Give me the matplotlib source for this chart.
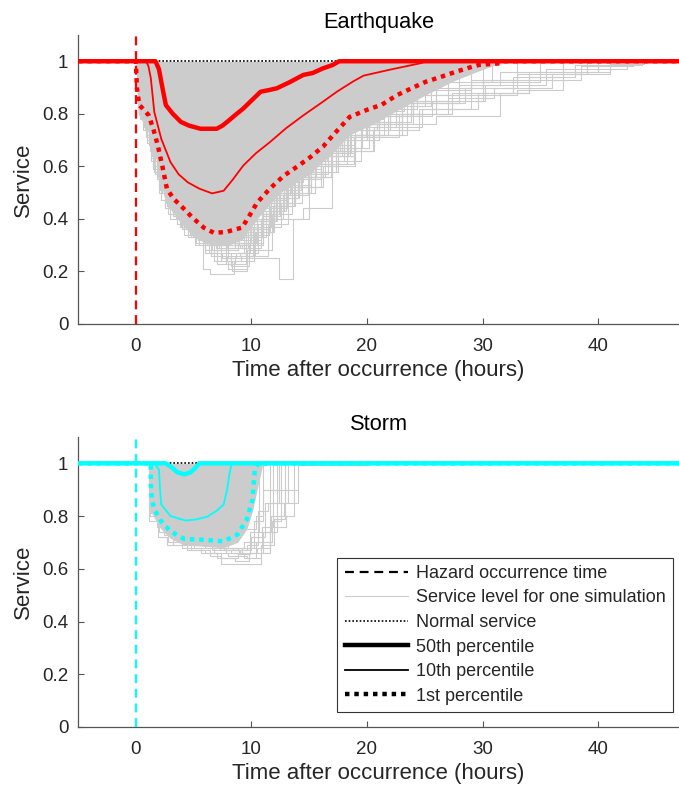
import numpy as np
import matplotlib
matplotlib.use("Agg")
import matplotlib.pyplot as plt
from matplotlib.lines import Line2D

plt.rcParams["font.family"] = ["Liberation Sans", "DejaVu Sans"]

T_MIN, T_MAX = -5, 47

# ---------------- Earthquake ----------------
eq_p50_t = [T_MIN, 1.7, 2.0, 2.3, 2.6, 3.2, 3.9, 4.6, 5.6, 7.0, 7.5, 7.9, 8.6, 9.3, 10.0, 10.8, 11.5, 12.2, 13.3, 14.5, 15.3, 16.2, 17.0, 17.6, T_MAX]
eq_p50_y = [1.0, 1.0, 0.97, 0.90, 0.833, 0.80, 0.769, 0.755, 0.743, 0.743, 0.755, 0.769, 0.795, 0.82, 0.85, 0.884, 0.89, 0.897, 0.92, 0.948, 0.955, 0.973, 0.985, 1.0, 1.0]

eq_p10_t = [T_MIN, 0.9, 1.1, 1.3, 1.6, 2.2, 3.0, 3.7, 4.5, 5.5, 6.6, 7.6, 8.4, 9.3, 10.4, 11.6, 13.0, 14.5, 16.0, 17.4, 18.8, 19.7, 22.0, 24.6, 25.2, T_MAX]
eq_p10_y = [1.0, 1.0, 0.98, 0.935, 0.807, 0.705, 0.616, 0.57, 0.539, 0.515, 0.497, 0.507, 0.55, 0.603, 0.65, 0.692, 0.745, 0.794, 0.84, 0.884, 0.923, 0.945, 0.968, 0.992, 1.0, 1.0]

eq_p1_t = [T_MIN, 0.0, 0.1, 0.3, 0.6, 1.1, 1.5, 1.9, 2.3, 2.7, 3.3, 3.9, 4.9, 5.9, 6.75, 7.8, 9.2, 9.8, 10.5, 11.6, 12.8, 14.0, 15.1, 16.2, 17.1, 18.5, 20.0, 21.3, 22.6, 24.0, 25.1, 26.5, 27.7, 28.8, 29.7, 31.5, 31.8, T_MAX]
eq_p1_y = [1.0, 1.0, 0.897, 0.833, 0.82, 0.795, 0.745, 0.68, 0.60, 0.513, 0.475, 0.45, 0.405, 0.366, 0.347, 0.35, 0.367, 0.41, 0.462, 0.515, 0.564, 0.60, 0.635, 0.675, 0.72, 0.788, 0.815, 0.835, 0.871, 0.90, 0.922, 0.942, 0.96, 0.975, 0.986, 0.992, 1.0, 1.0]

# lower edge of the densely overlapping simulation runs
eq_core_t = [0.0, 0.2, 1.0, 1.8, 2.6, 3.8, 5.0, 6.5, 8.0, 9.2, 10.5, 12.5, 15.0, 17.0, 18.5, 20.5, 22.5, 25.0, 27.5, 29.5, 31.0, 32.0]
eq_core_lo = [1.0, 0.80, 0.74, 0.62, 0.46, 0.39, 0.33, 0.30, 0.30, 0.32, 0.40, 0.50, 0.57, 0.65, 0.72, 0.76, 0.81, 0.87, 0.925, 0.96, 0.985, 1.0]

# individual simulation runs (times of service changes, service level after each change)
eq_runs = [
    ([0.4, 1.2, 2.5, 4.0, 5.5, 7.0, 9.0, 10.6, 12.0, 14.0, 16.5, 19.0, 22.0],
     [0.78, 0.66, 0.44, 0.36, 0.30, 0.26, 0.27, 0.38, 0.50, 0.62, 0.74, 0.86, 1.0]),
    ([0.6, 1.8, 3.0, 4.5, 6.0, 8.2, 9.8, 11.0, 12.4, 15.0, 18.0, 21.5, 25.0],
     [0.74, 0.55, 0.40, 0.33, 0.27, 0.22, 0.30, 0.42, 0.55, 0.66, 0.78, 0.90, 1.0]),
    ([0.5, 1.5, 2.8, 4.2, 6.0, 8.0, 10.0, 12.4, 13.6, 15.0, 17.0, 20.0, 24.0],
     [0.80, 0.60, 0.42, 0.34, 0.28, 0.25, 0.25, 0.17, 0.40, 0.56, 0.70, 0.84, 1.0]),
    ([0.3, 1.0, 2.2, 3.6, 5.8, 6.4, 8.5, 10.2, 11.5, 13.0, 15.5, 18.0, 21.0],
     [0.82, 0.70, 0.47, 0.38, 0.21, 0.19, 0.24, 0.36, 0.48, 0.58, 0.70, 0.82, 1.0]),
    ([0.8, 2.0, 3.5, 5.0, 7.0, 9.5, 11.5, 14.5, 17.0, 19.5, 22.0, 26.0],
     [0.76, 0.52, 0.40, 0.33, 0.30, 0.34, 0.40, 0.44, 0.62, 0.74, 0.85, 1.0]),
    ([1.0, 2.4, 4.0, 6.0, 8.5, 11.0, 13.5, 16.0, 19.0, 23.0, 27.0, 31.0, 36.0, 41.0, 44.0],
     [0.72, 0.50, 0.39, 0.33, 0.34, 0.45, 0.55, 0.64, 0.72, 0.80, 0.86, 0.90, 0.95, 0.99, 1.0]),
    ([0.5, 1.6, 3.2, 5.0, 7.5, 10.0, 12.0, 14.0, 17.5, 20.0, 24.0, 28.0, 31.5, 37.0],
     [0.78, 0.58, 0.41, 0.35, 0.31, 0.38, 0.50, 0.60, 0.72, 0.79, 0.87, 0.91, 0.96, 1.0]),
    ([0.7, 2.0, 3.8, 6.5, 9.0, 11.5, 14.0, 16.0, 18.5, 22.0, 26.0, 30.0, 33.0],
     [0.75, 0.50, 0.37, 0.32, 0.36, 0.48, 0.58, 0.66, 0.76, 0.80, 0.85, 0.93, 1.0]),
    ([1.2, 2.5, 4.5, 7.0, 9.5, 12.0, 15.0, 18.0, 21.0, 26.0, 31.5, 34.0, 37.0],
     [0.70, 0.48, 0.37, 0.33, 0.40, 0.52, 0.62, 0.70, 0.76, 0.79, 0.88, 0.94, 1.0]),
    ([0.9, 2.2, 4.0, 6.0, 9.0, 11.0, 13.0, 16.0, 19.0, 23.0, 28.0, 33.0, 37.0, 40.0],
     [0.74, 0.52, 0.40, 0.36, 0.38, 0.49, 0.59, 0.68, 0.77, 0.84, 0.87, 0.89, 0.96, 1.0]),
    ([0.6, 1.8, 3.0, 5.5, 8.0, 10.5, 12.5, 15.0, 18.0, 21.0, 25.0, 29.0, 34.0, 41.0],
     [0.77, 0.57, 0.44, 0.37, 0.36, 0.46, 0.57, 0.66, 0.75, 0.83, 0.89, 0.93, 0.96, 1.0]),
    ([0.4, 1.4, 2.6, 4.0, 5.5, 7.2, 9.0, 10.5, 12.0, 14.5, 17.0, 20.0],
     [0.80, 0.64, 0.46, 0.38, 0.33, 0.29, 0.30, 0.42, 0.54, 0.67, 0.80, 1.0]),
    ([0.3, 1.1, 2.3, 3.4, 4.8, 6.6, 8.8, 10.0, 11.2, 13.0, 15.0, 18.0],
     [0.84, 0.68, 0.50, 0.42, 0.33, 0.28, 0.31, 0.44, 0.55, 0.66, 0.78, 1.0]),
    ([0.2, 0.9, 2.0, 3.2, 4.6, 6.2, 7.8, 9.5, 11.0, 12.8, 14.6, 17.0, 19.5],
     [0.84, 0.71, 0.52, 0.41, 0.36, 0.30, 0.23, 0.31, 0.43, 0.56, 0.68, 0.82, 1.0]),
    ([0.5, 1.3, 2.5, 4.0, 5.2, 6.8, 8.0, 9.6, 11.8, 13.5, 16.0, 18.5, 23.0],
     [0.78, 0.62, 0.44, 0.37, 0.31, 0.24, 0.21, 0.28, 0.42, 0.52, 0.64, 0.76, 1.0]),
    ([0.8, 2.1, 3.6, 5.2, 6.9, 8.6, 10.4, 12.0, 13.8, 16.2, 19.0, 23.5, 28.0],
     [0.76, 0.54, 0.43, 0.34, 0.29, 0.31, 0.35, 0.46, 0.52, 0.60, 0.72, 0.84, 1.0]),
    ([1.0, 2.0, 3.0, 4.4, 6.0, 7.6, 9.2, 10.8, 12.6, 14.4, 16.4, 19.0, 21.0, 24.0, 30.0],
     [0.76, 0.62, 0.47, 0.40, 0.34, 0.30, 0.29, 0.37, 0.46, 0.56, 0.65, 0.72, 0.80, 0.90, 1.0]),
    ([0.6, 1.7, 2.9, 4.5, 6.1, 7.7, 9.3, 11.0, 13.1, 15.0, 17.5, 20.5, 24.5, 29.0, 35.0],
     [0.78, 0.60, 0.48, 0.40, 0.35, 0.33, 0.36, 0.44, 0.52, 0.58, 0.66, 0.74, 0.82, 0.92, 1.0]),
    ([0.4, 1.5, 2.7, 3.9, 5.1, 6.3, 7.5, 8.7, 9.9, 11.3, 13.0, 15.2, 17.8, 21.0],
     [0.79, 0.59, 0.45, 0.37, 0.30, 0.27, 0.25, 0.27, 0.33, 0.43, 0.53, 0.64, 0.76, 1.0]),
    ([0.7, 1.9, 3.1, 4.7, 6.5, 7.9, 9.1, 10.3, 11.9, 13.7, 16.0, 18.6, 22.5, 27.0],
     [0.75, 0.56, 0.43, 0.34, 0.26, 0.24, 0.26, 0.35, 0.45, 0.55, 0.65, 0.75, 0.85, 1.0]),
    ([0.3, 1.2, 2.4, 3.7, 5.3, 6.0, 7.0, 8.6, 10.1, 11.7, 13.3, 15.8, 18.2],
     [0.83, 0.66, 0.49, 0.40, 0.33, 0.27, 0.23, 0.26, 0.37, 0.49, 0.60, 0.72, 1.0]),
    ([0.9, 2.3, 3.9, 5.4, 7.1, 8.9, 10.8, 12.7, 14.9, 17.3, 20.2, 24.0, 28.5, 33.0, 39.0],
     [0.72, 0.50, 0.38, 0.32, 0.30, 0.32, 0.40, 0.49, 0.58, 0.67, 0.76, 0.84, 0.90, 0.95, 1.0]),
    ([1.1, 2.6, 4.1, 5.8, 7.3, 9.0, 10.9, 13.2, 15.6, 18.4, 21.8, 25.6, 30.2, 35.5, 42.5],
     [0.70, 0.49, 0.38, 0.34, 0.33, 0.37, 0.47, 0.56, 0.64, 0.72, 0.79, 0.85, 0.91, 0.97, 1.0]),
    ([0.5, 1.6, 2.8, 4.3, 5.9, 7.4, 8.3, 9.6, 11.4, 13.2, 15.5, 18.3, 21.5, 25.5],
     [0.79, 0.60, 0.46, 0.37, 0.31, 0.24, 0.20, 0.26, 0.38, 0.50, 0.61, 0.72, 0.83, 1.0]),
    ([0.2, 1.0, 2.1, 3.3, 4.9, 6.6, 8.4, 10.2, 12.1, 14.1, 16.6, 19.6, 23.8, 29.0],
     [0.82, 0.69, 0.51, 0.42, 0.35, 0.31, 0.31, 0.39, 0.48, 0.57, 0.67, 0.77, 0.87, 1.0]),
    ([0.8, 2.0, 3.3, 4.9, 6.2, 7.9, 9.7, 11.6, 13.8, 16.9, 20.6, 24.8, 29.6, 34.0, 38.5, 43.0],
     [0.74, 0.55, 0.42, 0.35, 0.31, 0.29, 0.35, 0.45, 0.56, 0.66, 0.75, 0.82, 0.88, 0.93, 0.98, 1.0]),
    ([0.6, 1.7, 3.4, 5.0, 6.7, 8.0, 9.4, 10.9, 12.5, 14.3, 16.9, 19.9, 23.2],
     [0.77, 0.57, 0.42, 0.35, 0.30, 0.27, 0.33, 0.41, 0.51, 0.61, 0.71, 0.81, 1.0]),
    ([0.4, 1.3, 2.5, 3.8, 5.1, 6.5, 8.1, 9.9, 11.7, 13.4, 15.3, 17.7, 20.9, 24.3, 30.8],
     [0.81, 0.63, 0.48, 0.40, 0.35, 0.32, 0.34, 0.40, 0.50, 0.58, 0.66, 0.74, 0.82, 0.92, 1.0]),
    ([1.3, 2.8, 4.6, 6.9, 9.4, 12.2, 15.2, 18.9, 22.8, 27.4, 32.6, 38.0, 43.8],
     [0.68, 0.47, 0.37, 0.34, 0.39, 0.50, 0.61, 0.71, 0.80, 0.88, 0.94, 0.985, 1.0]),
]

# ---------------- Storm ----------------
st_p50_t = [T_MIN, 2.6, 3.1, 3.6, 4.2, 4.7, 5.1, 5.5, T_MAX]
st_p50_y = [1.0, 1.0, 0.985, 0.966, 0.958, 0.965, 0.98, 1.0, 1.0]

st_p10_t = [T_MIN, 1.6, 2.0, 2.1, 2.2, 3.0, 4.3, 5.2, 6.2, 7.0, 7.6, 7.9, 8.1, 8.3, T_MAX]
st_p10_y = [1.0, 1.0, 0.977, 0.90, 0.844, 0.80, 0.783, 0.787, 0.798, 0.82, 0.844, 0.90, 0.96, 1.0, 1.0]

st_p1_t = [T_MIN, 1.3, 1.3, 1.4, 1.6, 2.2, 3.0, 4.2, 5.9, 7.6, 8.8, 9.6, 10.1, 10.3, 10.6, T_MAX]
st_p1_y = [1.0, 1.0, 0.92, 0.863, 0.825, 0.78, 0.742, 0.713, 0.71, 0.704, 0.73, 0.787, 0.863, 0.977, 1.0, 1.0]

st_core_t = [1.1, 1.1, 1.5, 2.2, 3.0, 4.2, 6.0, 7.6, 8.8, 9.6, 10.1, 10.6, 11.0]
st_core_lo = [1.0, 0.84, 0.80, 0.75, 0.715, 0.69, 0.685, 0.68, 0.70, 0.75, 0.82, 0.92, 1.0]

st_runs = [
    ([1.1, 1.8, 2.8, 4.0, 5.6, 7.0, 8.6, 9.8, 11.0, 12.2],
     [0.82, 0.76, 0.70, 0.68, 0.66, 0.64, 0.63, 0.66, 0.74, 1.0]),
    ([1.2, 2.0, 3.2, 4.8, 6.4, 7.4, 9.0, 10.8, 11.6],
     [0.80, 0.74, 0.69, 0.67, 0.65, 0.62, 0.62, 0.66, 1.0]),
    ([1.3, 2.4, 3.6, 5.0, 6.8, 8.0, 9.6, 10.4, 11.8, 12.6],
     [0.81, 0.73, 0.70, 0.68, 0.66, 0.65, 0.64, 0.70, 0.78, 1.0]),
    ([1.5, 2.6, 4.0, 5.6, 7.6, 9.0, 10.5, 11.6, 13.0, 13.7],
     [0.82, 0.75, 0.71, 0.69, 0.67, 0.66, 0.68, 0.76, 0.80, 1.0]),
    ([1.4, 2.2, 3.4, 5.2, 7.2, 8.8, 10.0, 11.2, 12.4],
     [0.83, 0.77, 0.72, 0.70, 0.68, 0.67, 0.72, 0.85, 1.0]),
    ([1.2, 2.0, 3.0, 4.6, 6.2, 8.0, 9.4, 10.6, 11.4, 13.2],
     [0.85, 0.78, 0.73, 0.71, 0.69, 0.68, 0.70, 0.82, 0.85, 1.0]),
    ([1.6, 3.0, 5.0, 7.0, 9.0, 10.4, 11.0, 14.0, 20.0],
     [0.86, 0.80, 0.76, 0.74, 0.75, 0.80, 0.90, 0.993, 1.0]),
    ([1.3, 2.1, 3.3, 4.9, 6.6, 8.2, 9.2, 10.2, 11.0],
     [0.84, 0.76, 0.71, 0.69, 0.67, 0.66, 0.68, 0.78, 1.0]),
    ([1.7, 2.8, 4.2, 6.0, 7.8, 9.4, 10.8, 12.0, 12.9],
     [0.80, 0.73, 0.70, 0.68, 0.66, 0.64, 0.69, 0.79, 1.0]),
    ([1.1, 1.9, 2.7, 4.4, 6.0, 7.4, 8.8, 9.9, 10.7],
     [0.78, 0.72, 0.69, 0.67, 0.66, 0.64, 0.66, 0.74, 1.0]),
    ([1.2, 2.2, 3.5, 5.4, 7.0, 8.4, 9.6, 10.6, 11.7, 12.8, 14.0],
     [0.84, 0.76, 0.72, 0.70, 0.68, 0.67, 0.69, 0.74, 0.80, 0.85, 1.0]),
    ([1.4, 2.5, 3.9, 5.7, 7.3, 8.9, 9.9, 10.9, 11.9],
     [0.82, 0.74, 0.70, 0.69, 0.67, 0.655, 0.68, 0.76, 1.0]),
]

TEXT = "#262626"
SIM_GRAY = "#cccccc"

fig = plt.figure(figsize=(6.79, 7.89), dpi=100)
ax_eq = fig.add_axes([0.1149, 0.5894, 0.8851, 0.3663])
ax_st = fig.add_axes([0.1149, 0.0786, 0.8851, 0.3676])


def draw_panel(ax, title, color, p50, p10, p1, core, runs):
    ax.fill_between(core[0], core[1], 1.0, color=SIM_GRAY, lw=0, zorder=1)
    for t, y in runs:
        ax.step(np.r_[T_MIN, t, T_MAX], np.r_[1.0, y, y[-1]], where="post",
                color=SIM_GRAY, lw=0.8, zorder=2)
    ax.plot([T_MIN, T_MAX], [1, 1], color="black", ls=(0, (1, 1.2)), lw=1.2, zorder=3)
    ax.axvline(0, color=color, ls=(0, (4, 2.6)), lw=1.6, zorder=3)
    ax.plot(p1[0], p1[1], color=color, ls=(0, (1, 1.1)), lw=3.2, zorder=4)
    ax.plot(p10[0], p10[1], color=color, lw=1.3, zorder=5)
    ax.plot(p50[0], p50[1], color=color, lw=3.2, zorder=6, solid_capstyle="butt")

    ax.set_xlim(T_MIN, T_MAX)
    ax.set_ylim(0, 1.1)
    ax.set_xticks([0, 10, 20, 30, 40])
    ax.set_yticks([0, 0.2, 0.4, 0.6, 0.8, 1])
    ax.set_yticklabels(["0", "0.2", "0.4", "0.6", "0.8", "1"])
    for s in ("top", "right"):
        ax.spines[s].set_visible(False)
    for s in ("left", "bottom"):
        ax.spines[s].set_color("#555555")
        ax.spines[s].set_linewidth(0.9)
    ax.tick_params(direction="in", length=4, width=0.8, color="#555555",
                   labelsize=13.5, labelcolor=TEXT)
    ax.tick_params(axis="x", pad=10)
    ax.tick_params(axis="y", pad=7)
    ax.set_xlabel("Time after occurrence (hours)", fontsize=16, color=TEXT, labelpad=4)
    ax.set_ylabel("Service", fontsize=16, color=TEXT, labelpad=6)
    ax.set_title(title, fontsize=15.7, color="black", pad=5)


draw_panel(ax_eq, "Earthquake", "#ff0000", (eq_p50_t, eq_p50_y), (eq_p10_t, eq_p10_y),
           (eq_p1_t, eq_p1_y), (eq_core_t, eq_core_lo), eq_runs)
draw_panel(ax_st, "Storm", "#00ffff", (st_p50_t, st_p50_y), (st_p10_t, st_p10_y),
           (st_p1_t, st_p1_y), (st_core_t, st_core_lo), st_runs)

legend_handles = [
    Line2D([], [], color="black", ls=(0, (4, 2.6)), lw=1.6),
    Line2D([], [], color=SIM_GRAY, lw=0.8),
    Line2D([], [], color="black", ls=(0, (1, 1.2)), lw=1.2),
    Line2D([], [], color="black", lw=3.2),
    Line2D([], [], color="black", lw=1.3),
    Line2D([], [], color="black", ls=(0, (1, 1.1)), lw=3.2),
]
legend_labels = [
    "Hazard occurrence time",
    "Service level for one simulation",
    "Normal service",
    "50th percentile",
    "10th percentile",
    "1st percentile",
]
leg = ax_st.legend(legend_handles, legend_labels, loc="lower right",
                   bbox_to_anchor=(0.991, 0.0976), bbox_transform=fig.transFigure,
                   borderaxespad=0, fontsize=13, handlelength=3.5, handletextpad=0.45,
                   labelspacing=0.42, borderpad=0.4, fancybox=False, framealpha=1)
leg.get_frame().set_edgecolor("#333333")
leg.get_frame().set_linewidth(0.8)
for txt in leg.get_texts():
    txt.set_color(TEXT)

fig.savefig("out.png", dpi=100)
